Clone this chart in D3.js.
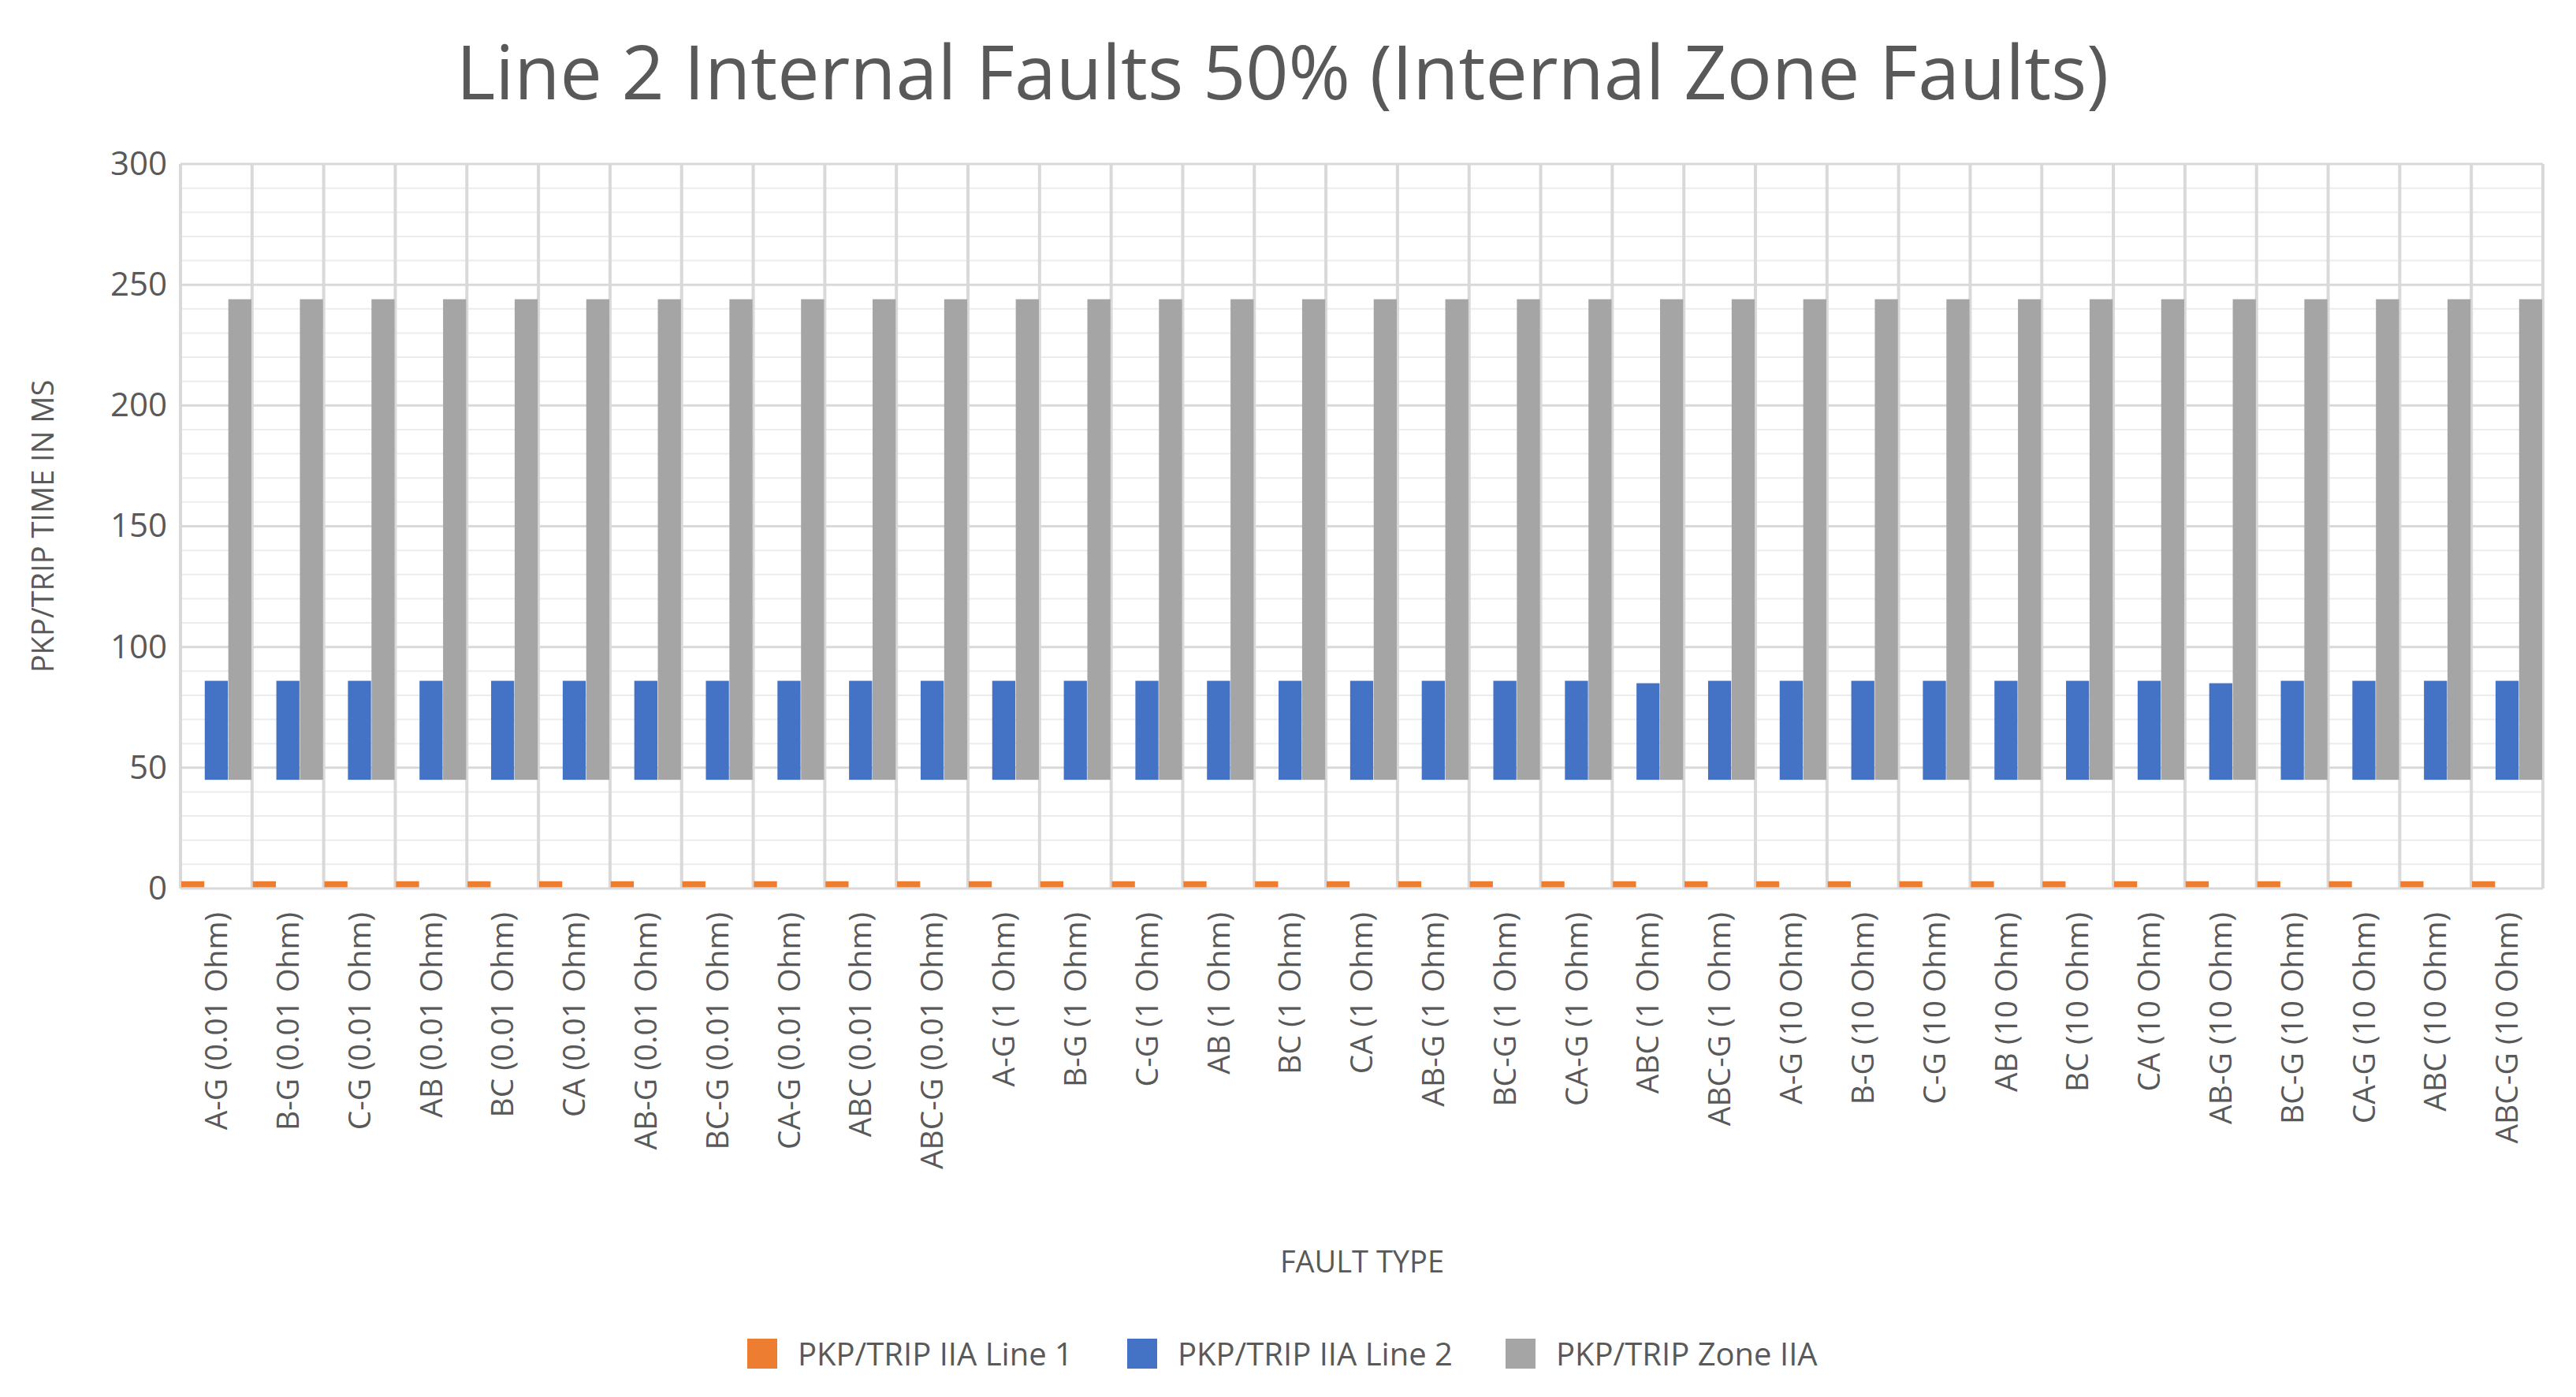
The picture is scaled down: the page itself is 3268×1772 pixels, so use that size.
<!DOCTYPE html>
<html>
<head>
<meta charset="utf-8">
<script src="https://cdn.jsdelivr.net/npm/d3@7"></script>
<style>
body { margin: 0; background: #fff; }
text { font-family: "Open Sans", "Noto Sans", sans-serif; fill: #595959; }
</style>
</head>
<body>
<div id="view"></div>
<script>
// fault types and resistances
var faults = ["A-G", "B-G", "C-G", "AB", "BC", "CA", "AB-G", "BC-G", "CA-G", "ABC", "ABC-G"];
var ohms = ["0.01 Ohm", "1 Ohm", "10 Ohm"];
var categories = [];
ohms.forEach(function(o){ faults.forEach(function(f){ categories.push(f + " (" + o + ")"); }); });

// floating bars: start and end of each bar in ms
var line1Start = [0.5,0.5,0.5,0.5,0.5,0.5,0.5,0.5,0.5,0.5,0.5, 0.5,0.5,0.5,0.5,0.5,0.5,0.5,0.5,0.5,0.5,0.5, 0.5,0.5,0.5,0.5,0.5,0.5,0.5,0.5,0.5,0.5,0.5];
var line1End   = [3,3,3,3,3,3,3,3,3,3,3, 3,3,3,3,3,3,3,3,3,3,3, 3,3,3,3,3,3,3,3,3,3,3];
var line2Start = [45,45,45,45,45,45,45,45,45,45,45, 45,45,45,45,45,45,45,45,45,45,45, 45,45,45,45,45,45,45,45,45,45,45];
var line2End   = [86,86,86,86,86,86,86,86,86,86,86, 86,86,86,86,86,86,86,86,86,85,86, 86,86,86,86,86,86,85,86,86,86,86];
var zoneStart  = [45,45,45,45,45,45,45,45,45,45,45, 45,45,45,45,45,45,45,45,45,45,45, 45,45,45,45,45,45,45,45,45,45,45];
var zoneEnd    = [244,244,244,244,244,244,244,244,244,244,244, 244,244,244,244,244,244,244,244,244,244,244, 244,244,244,244,244,244,244,244,244,244,244];

var seriesNames = ["PKP/TRIP IIA Line 1", "PKP/TRIP IIA Line 2", "PKP/TRIP Zone IIA"];
var colors = ["#ED7D31", "#4472C4", "#A5A5A5"];
var yTicks = [0, 50, 100, 150, 200, 250, 300];

var W = 3268, H = 1772;
var m = {left: 229, right: 42, top: 208, bottom: 645};

var svg = d3.select("#view").append("svg")
	.attr("width", W).attr("height", H);

var x = d3.scaleBand().domain(categories).range([m.left, W - m.right]).padding(0);
var y = d3.scaleLinear().domain([0, 300]).range([H - m.bottom, m.top]);

// minor gridlines
svg.append("g").selectAll("line")
	.data(d3.range(0, 301, 10).filter(function(d){ return d % 50 != 0; }))
	.enter().append("line")
	.attr("x1", m.left).attr("x2", W - m.right)
	.attr("y1", function(d){ return y(d); }).attr("y2", function(d){ return y(d); })
	.style("stroke", "#ececec").style("stroke-width", 2);

// major gridlines
svg.append("g").selectAll("line")
	.data(yTicks)
	.enter().append("line")
	.attr("x1", m.left).attr("x2", W - m.right)
	.attr("y1", function(d){ return y(d); }).attr("y2", function(d){ return y(d); })
	.style("stroke", "#d9d9d9").style("stroke-width", 3);

// vertical gridlines at category edges
svg.append("g").selectAll("line")
	.data(categories.concat(["end"]))
	.enter().append("line")
	.attr("x1", function(d, i){ return m.left + i * x.bandwidth(); })
	.attr("x2", function(d, i){ return m.left + i * x.bandwidth(); })
	.attr("y1", y(300)).attr("y2", y(0))
	.style("stroke", "#d9d9d9").style("stroke-width", 4);

var inner = d3.scaleBand().domain([0, 1, 2]).range([0, x.bandwidth()]).paddingInner(0.02).paddingOuter(0.03);
var starts = [line1Start, line2Start, zoneStart];
var ends = [line1End, line2End, zoneEnd];

[0, 1, 2].forEach(function(s){
	svg.append("g").selectAll("rect")
		.data(categories)
		.enter().append("rect")
		.attr("x", function(d){ return x(d) + inner(s); })
		.attr("width", inner.bandwidth())
		.attr("y", function(d, i){ return y(ends[s][i]); })
		.attr("height", function(d, i){ return y(starts[s][i]) - y(ends[s][i]); })
		.style("fill", colors[s]);
});

// y axis
var yAxis = svg.append("g")
	.attr("transform", "translate(" + (m.left - 14) + ",0)")
	.call(d3.axisLeft(y).tickValues(yTicks).tickSize(0));
yAxis.select(".domain").remove();
yAxis.selectAll("text").style("font-size", "42px").style("fill", "#595959").attr("font-family", "Open Sans");

// x axis labels
var xAxis = svg.append("g")
	.attr("transform", "translate(0," + (H - m.bottom + 20) + ")")
	.call(d3.axisBottom(x).tickSize(0));
xAxis.select(".domain").remove();
xAxis.selectAll("text")
	.style("font-size", "39px").style("fill", "#595959").attr("font-family", "Open Sans")
	.style("text-anchor", "end")
	.attr("dx", 0).attr("dy", "0.35em")
	.attr("transform", "rotate(-90)")
	.attr("x", -10).attr("y", 0);

// title and axis titles
svg.append("text").attr("x", 1627).attr("y", 126)
	.attr("text-anchor", "middle").style("font-size", "95px").text("Line 2 Internal Faults 50% (Internal Zone Faults)");
svg.append("text").attr("x", 1728).attr("y", 1614)
	.attr("text-anchor", "middle").style("font-size", "38px").text("FAULT TYPE");
svg.append("text").attr("transform", "translate(68," + y(150) + ") rotate(-90)")
	.attr("text-anchor", "middle").style("font-size", "38px").text("PKP/TRIP TIME IN MS");

// legend
var legX = [948, 1430, 1910];
var leg = svg.append("g").selectAll("g")
	.data(seriesNames)
	.enter().append("g")
	.attr("transform", function(d, i){ return "translate(" + legX[i] + ",1718)"; });
leg.append("rect").attr("x", 0).attr("y", -20).attr("width", 38).attr("height", 38)
	.style("fill", function(d, i){ return colors[i]; });
leg.append("text").attr("x", 64).attr("y", 14).style("font-size", "40px").text(function(d){ return d; });
</script>
</body>
</html>
